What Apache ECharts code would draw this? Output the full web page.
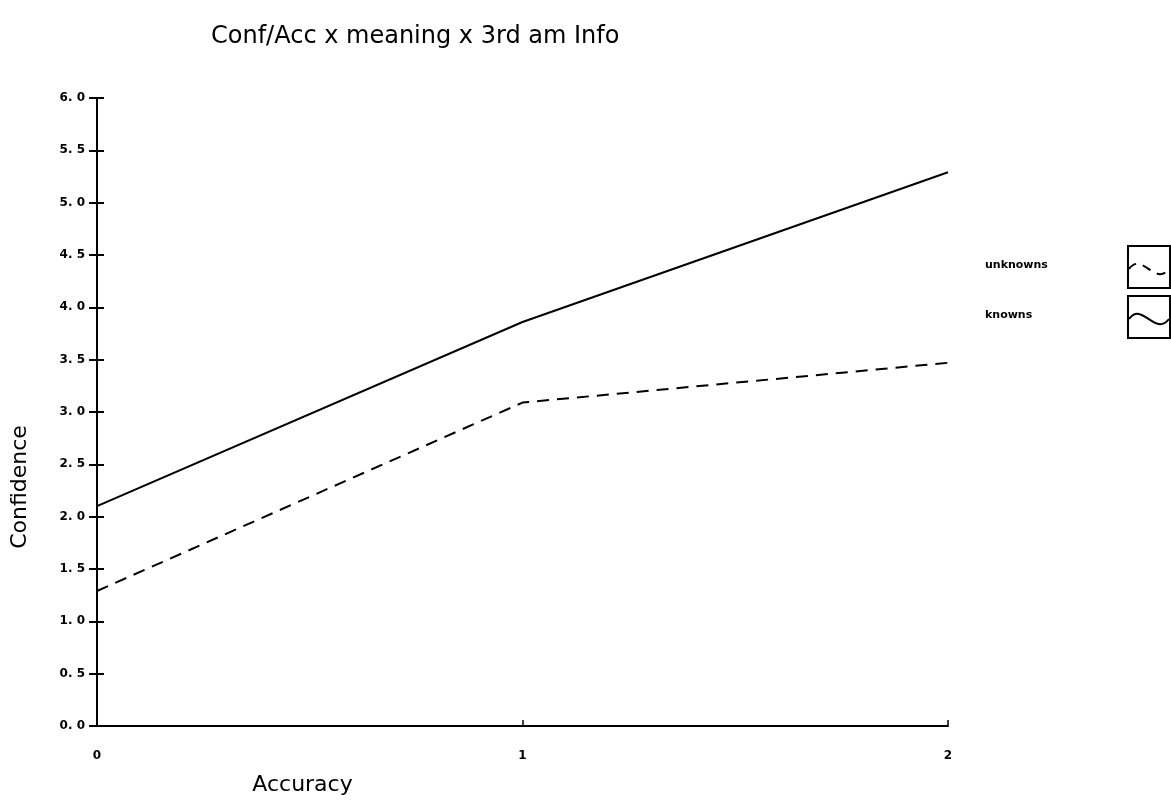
<!DOCTYPE html>
<html>
<head>
<meta charset="utf-8">
<script src="https://cdn.jsdelivr.net/npm/echarts@6/dist/echarts.min.js"></script>
<style>
html,body{margin:0;padding:0;background:#fff;}
#chart{width:1171px;height:807px;}
</style>
</head>
<body>
<div id="chart"></div>
<script>
const categories = ['0', '1', '2'];
const knowns = [2.10, 3.86, 5.29];
const unknowns = [1.29, 3.09, 3.47];
const yTicks = [0, 0.5, 1, 1.5, 2, 2.5, 3, 3.5, 4, 4.5, 5, 5.5, 6];
const seriesNames = ['unknowns', 'knowns'];

const chart = echarts.init(document.getElementById('chart'));
const font = '"DejaVu Sans", sans-serif';
const legendTop = [267, 317];

const graphics = [{
  type: 'text', x: 20, y: 487, rotation: Math.PI / 2,
  style: { text: 'Confidence', font: '22px ' + font, fill: '#000', align: 'center', verticalAlign: 'middle' }
}];
seriesNames.forEach((name, i) => {
  const cy = legendTop[i];
  graphics.push({
    type: 'text', left: 985, top: cy - 7,
    style: { text: name, font: 'bold 11px ' + font, fill: '#000' }
  });
  graphics.push({
    type: 'rect', shape: { x: 1128, y: cy - 21, width: 42, height: 42 },
    style: { fill: 'none', stroke: '#000', lineWidth: 2 }
  });
  graphics.push({
    type: 'bezierCurve',
    shape: { x1: 1129, y1: cy + 2, cpx1: 1142, cpy1: cy - 16, cpx2: 1155, cpy2: cy + 20, x2: 1169, y2: cy + 2 },
    style: { stroke: '#000', lineWidth: 2, fill: 'none', lineDash: i === 0 ? [9, 7] : null }
  });
});

chart.setOption({
  backgroundColor: '#fff',
  animation: false,
  title: {
    text: 'Conf/Acc x meaning x 3rd am Info',
    left: 206, top: 20,
    textStyle: { fontFamily: font, fontWeight: 'normal', fontSize: 24, color: '#000' }
  },
  grid: { left: 97, right: 223, top: 98, bottom: 81, containLabel: false },
  xAxis: {
    type: 'category', data: categories, boundaryGap: false,
    name: 'Accuracy', nameLocation: 'middle', nameGap: 48,
    nameTextStyle: { fontFamily: font, fontSize: 22, color: '#000', padding: [0, 0, 0, -440] },
    axisLine: { lineStyle: { color: '#000', width: 2 } },
    axisTick: { show: true, inside: true, length: 6, lineStyle: { color: '#000', width: 1.5 } },
    axisLabel: { fontFamily: font, fontWeight: 'bold', fontSize: 12, color: '#000', margin: 24 }
  },
  yAxis: [{
    type: 'value', min: 0, max: 6, interval: 0.5,
    axisLine: { show: true, lineStyle: { color: '#000', width: 2 } },
    axisTick: { show: true, length: 8, lineStyle: { color: '#000', width: 2 } },
    splitLine: { show: false },
    axisLabel: {
      fontFamily: font, fontWeight: 'bold', fontSize: 12, color: '#000', margin: 12,
      formatter: v => yTicks.includes(v) ? v.toFixed(1).replace('.', '. ') : ''
    }
  }, {
    type: 'value', min: 0, max: 6, interval: 0.5, position: 'left',
    axisLine: { show: false },
    axisTick: { show: true, inside: true, length: 7, lineStyle: { color: '#000', width: 2 } },
    axisLabel: { show: false }, splitLine: { show: false }
  }],
  series: [
    {
      name: seriesNames[0], type: 'line', data: unknowns, symbol: 'none',
      lineStyle: { color: '#000', width: 2, type: [12, 8] }
    },
    {
      name: seriesNames[1], type: 'line', data: knowns, symbol: 'none',
      lineStyle: { color: '#000', width: 2 }
    }
  ],
  graphic: graphics
});
</script>
</body>
</html>
